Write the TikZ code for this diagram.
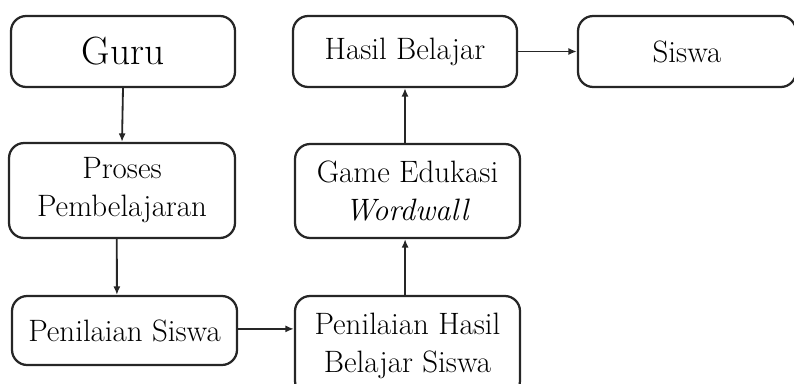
\documentclass[tikz,border=0pt]{standalone}
\usepackage{tikz}
\usetikzlibrary{arrows.meta,positioning,calc}

\begin{document}
\begin{tikzpicture}[
    box/.style={draw=black!85, line width=1.6pt, rounded corners=0.38cm,
        align=center, inner sep=0pt, font=\fontsize{22}{27}\selectfont},
    arr/.style={draw=black!85, line width=1.3pt, -{Latex[length=6pt,width=5pt]}}
  ]
    % Fix the page size
    \useasboundingbox (0,0) rectangle (19.85,9.575);

    % Left column
    \node[box, minimum width=5.6cm, minimum height=1.775cm,
          font=\fontsize{28}{30}\selectfont] (guru) at (3.075,8.2875) {Guru};
    \node[box, minimum width=5.65cm, minimum height=2.375cm] (proses) at (3.05,4.8125) {Proses\\Pembelajaran};
    \node[box, minimum width=5.625cm, minimum height=1.725cm] (nilai) at (3.1125,1.3125) {Penilaian Siswa};

    % Middle column (box runs past the lower edge)
    \node[box, minimum width=5.625cm, minimum height=2.5cm] (hasilnilai) at (10.1875,0.925) {Penilaian Hasil\\Belajar Siswa};
    \node[box, minimum width=5.625cm, minimum height=2.35cm] (game) at (10.1875,4.8) {Game Edukasi\\\textit{Wordwall}};
    \node[box, minimum width=5.6cm, minimum height=1.775cm] (hasil) at (10.125,8.2875) {Hasil Belajar};

    % Right
    \node[box, minimum width=5.45cm, minimum height=1.775cm] (siswa) at (17.175,8.2875) {Siswa};

    % Arrows
    \draw[arr] (guru.south) -- (proses.north);
    \draw[arr] ([xshift=-0.13cm]proses.south) -- ([xshift=-0.19cm]nilai.north);
    \draw[arr] ([yshift=0.04cm]nilai.east) -- ([yshift=0.04cm]nilai.east -| hasilnilai.west);
    \draw[arr] ([xshift=-0.06cm]hasilnilai.north) -- ([xshift=-0.06cm]game.south);
    \draw[arr] (game.north -| hasil.south) -- (hasil.south);
    \draw[arr] (hasil.east) -- (siswa.west);
\end{tikzpicture}
\end{document}
